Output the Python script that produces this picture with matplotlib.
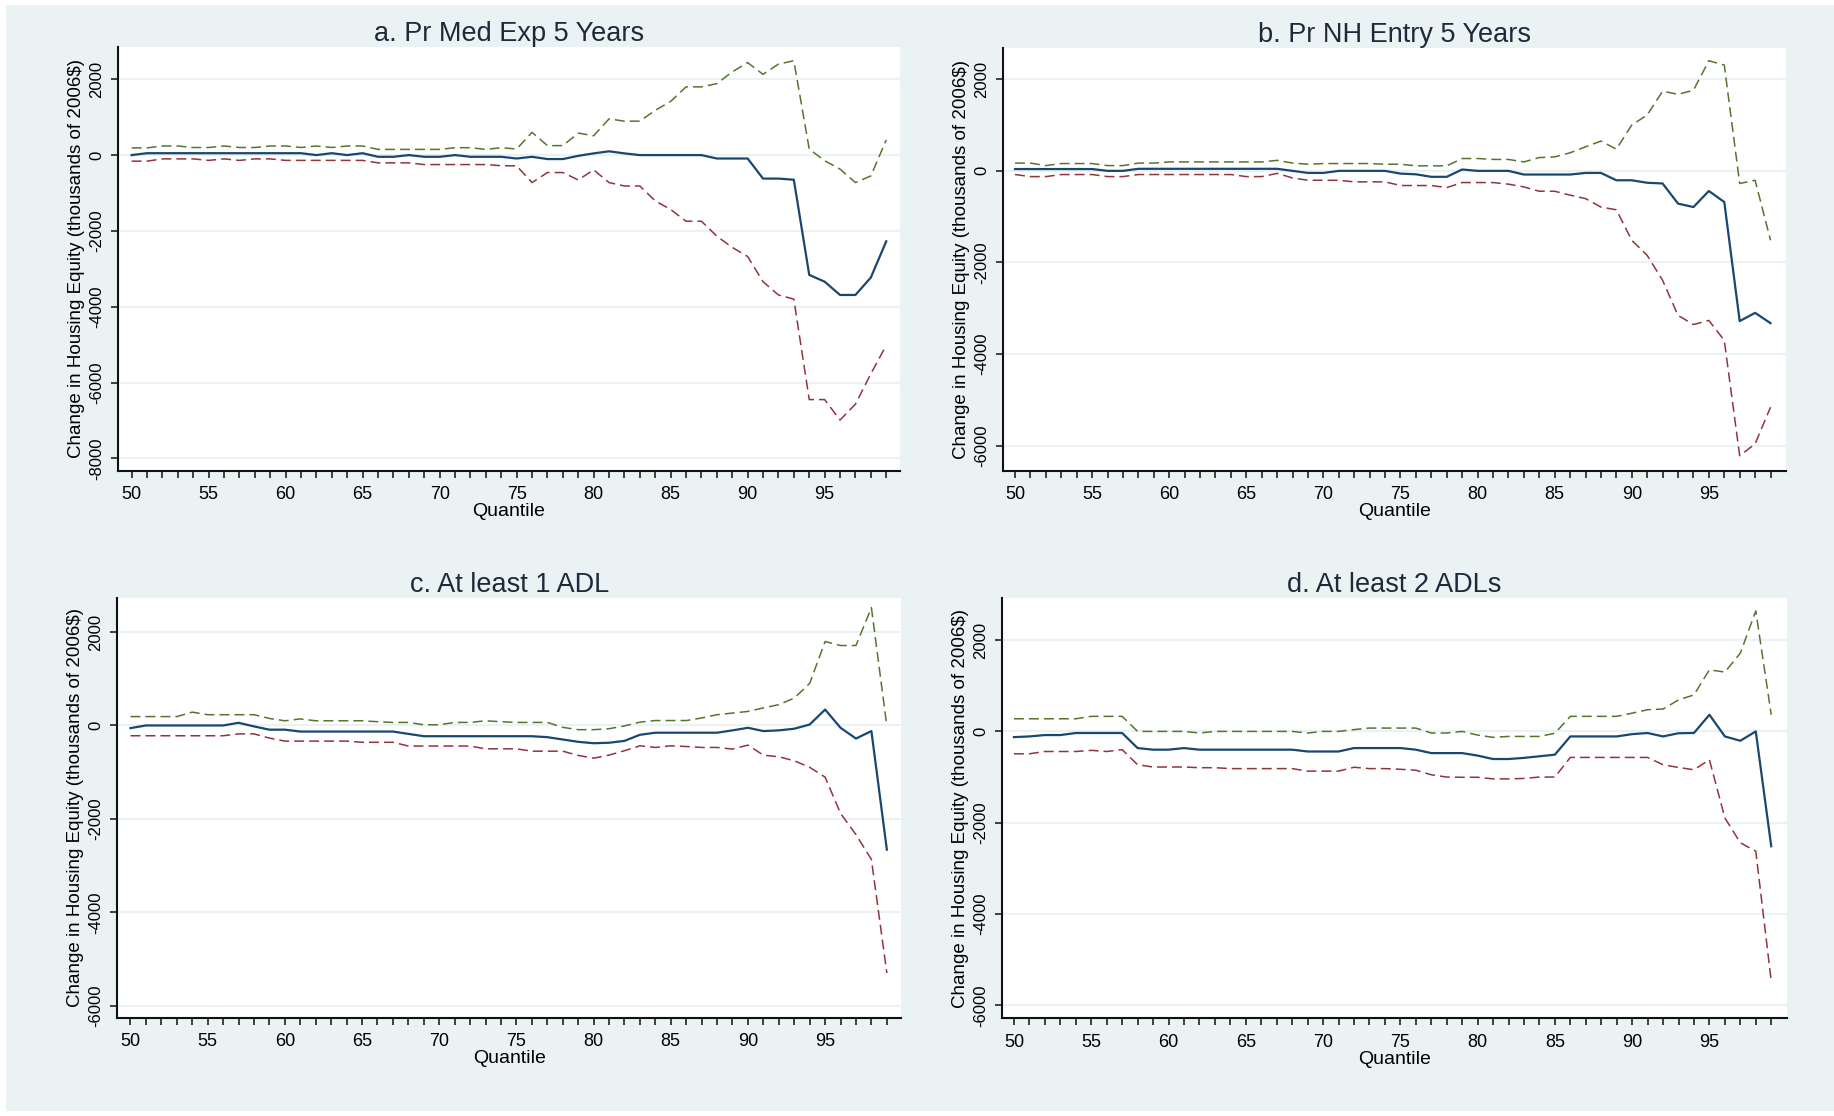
#!/usr/bin/env python3
"""
Quantile effects on change in housing equity, four health shocks (2x2 panels).
"""

import matplotlib
matplotlib.use("Agg")
import matplotlib.pyplot as plt
from matplotlib.patches import Rectangle

# quantiles on the x axis
quantiles = list(range(50, 100))

# a. Pr Med Exp 5 Years
coef_a = [0, 50, 50, 50, 50, 50, 50, 50, 50, 50,
          50, 50, 0, 50, 0, 50, -45, -45, 0, -45,
          -45, 0, -45, -45, -45, -90, -45, -105, -105, -20,
          45, 100, 45, 0, 0, 0, 0, 0, -90, -90,
          -90, -620, -620, -650, -3160, -3340, -3690, -3690, -3230, -2275]
upper_a = [190, 190, 240, 240, 200, 200, 240, 200, 200, 240,
           240, 200, 240, 200, 240, 240, 150, 150, 150, 150,
           150, 195, 195, 150, 195, 160, 600, 250, 250, 580,
           510, 955, 895, 895, 1180, 1415, 1800, 1800, 1885, 2195,
           2440, 2130, 2400, 2490, 160, -150, -370, -725, -550, 400]
lower_a = [-160, -160, -100, -100, -100, -140, -100, -140, -100, -100,
           -140, -140, -140, -140, -140, -140, -205, -205, -205, -250,
           -250, -250, -250, -250, -280, -285, -725, -460, -460, -655,
           -390, -725, -815, -815, -1210, -1435, -1745, -1745, -2140, -2435,
           -2675, -3340, -3690, -3800, -6450, -6450, -6990, -6570, -5770, -5020]

# b. Pr NH Entry 5 Years
coef_b = [40, 40, 40, 40, 40, 40, 0, 0, 45, 45,
          45, 45, 45, 45, 45, 45, 45, 45, 0, -45,
          -45, 0, 0, 0, 0, -60, -75, -130, -130, 30,
          0, 0, 0, -80, -80, -80, -80, -45, -45, -205,
          -205, -260, -275, -715, -790, -440, -680, -3280, -3100, -3325]
upper_b = [170, 170, 115, 160, 160, 160, 115, 115, 170, 170,
           195, 195, 195, 195, 195, 195, 195, 230, 170, 145,
           160, 160, 160, 160, 145, 145, 110, 110, 110, 270,
           270, 250, 250, 195, 290, 305, 395, 525, 650, 475,
           1000, 1220, 1740, 1670, 1760, 2405, 2310, -275, -205, -1515]
lower_b = [-80, -125, -125, -80, -80, -80, -125, -125, -80, -80,
           -80, -80, -80, -80, -80, -125, -125, -55, -155, -205,
           -205, -205, -240, -240, -240, -320, -320, -320, -365, -255,
           -255, -255, -290, -350, -445, -445, -530, -605, -790, -850,
           -1515, -1845, -2390, -3155, -3355, -3265, -3700, -6220, -5960, -5160]

# c. At least 1 ADL
coef_c = [-57, 0, 0, 0, 0, 0, 0, 57, -20, -90,
          -90, -130, -130, -130, -130, -130, -130, -130, -180, -230,
          -230, -230, -230, -230, -230, -230, -230, -250, -300, -350,
          -380, -370, -330, -200, -155, -155, -155, -155, -155, -105,
          -50, -120, -105, -70, 20, 340, -50, -280, -120, -2655]
upper_c = [190, 190, 190, 190, 285, 230, 230, 230, 230, 150,
           100, 140, 100, 100, 100, 100, 80, 65, 65, 15,
           15, 65, 65, 100, 80, 65, 65, 65, -40, -90,
           -90, -70, -10, 70, 105, 105, 105, 160, 230, 265,
           300, 375, 445, 585, 900, 1795, 1710, 1710, 2520, -15]
lower_c = [-220, -220, -220, -220, -220, -220, -220, -180, -180, -270,
           -335, -335, -335, -335, -335, -360, -360, -360, -440, -440,
           -440, -440, -440, -500, -500, -500, -550, -550, -550, -640,
           -700, -635, -540, -435, -470, -435, -450, -470, -470, -505,
           -420, -635, -670, -755, -895, -1105, -1880, -2335, -2865, -5295]

# d. At least 2 ADLs
coef_d = [-125, -110, -80, -80, -35, -35, -35, -35, -365, -400,
          -400, -365, -400, -400, -400, -400, -400, -400, -400, -440,
          -440, -440, -365, -365, -365, -365, -400, -475, -475, -475,
          -530, -605, -605, -580, -545, -510, -110, -110, -110, -110,
          -60, -35, -110, -40, -35, 365, -110, -205, 0, -2515]
upper_d = [277, 277, 277, 277, 277, 330, 330, 330, 0, 0,
           0, 0, -35, 0, 0, 0, 0, 0, 0, -35,
           0, 0, 40, 73, 73, 73, 73, -35, -35, 0,
           -80, -130, -110, -110, -110, -40, 330, 330, 330, 330,
           400, 475, 490, 690, 800, 1350, 1300, 1715, 2640, 365]
lower_d = [-490, -490, -440, -440, -440, -415, -440, -400, -730, -780,
           -780, -780, -795, -795, -815, -815, -815, -815, -815, -870,
           -870, -870, -785, -815, -815, -830, -850, -950, -1000, -1005,
           -1005, -1040, -1040, -1030, -1000, -1000, -570, -570, -570, -570,
           -570, -570, -730, -790, -840, -620, -1895, -2440, -2625, -5470]

titles = ['a. Pr Med Exp 5 Years', 'b. Pr NH Entry 5 Years',
          'c. At least 1 ADL', 'd. At least 2 ADLs']
yticks_a = [-8000, -6000, -4000, -2000, 0, 2000]
yticks_other = [-6000, -4000, -2000, 0, 2000]
y_label = 'Change in Housing Equity (thousands of 2006$)'
x_label = 'Quantile'

# Stata s2color look
BG = '#EAF2F3'
NAVY = '#1a476f'
MAROON = '#90353b'
GREEN = '#55752f'

plt.rcParams['font.family'] = ['Liberation Sans', 'DejaVu Sans']
plt.rcParams['axes.unicode_minus'] = False


def draw_panel(ax, title, coef, upper, lower, yticks, ylim, xlim):
    """One Stata-style panel: estimate plus dashed confidence bounds."""
    ax.set_facecolor('white')
    for t in yticks:
        ax.axhline(t, color=BG, linewidth=1.6, zorder=0)

    ax.plot(quantiles, coef, color=NAVY, linewidth=1.6, zorder=3)
    ax.plot(quantiles, lower, color=MAROON, linewidth=1.1,
            dashes=(6.5, 3.3), zorder=2)
    ax.plot(quantiles, upper, color=GREEN, linewidth=1.1,
            dashes=(6.5, 3.3), zorder=2)

    ax.set_xlim(*xlim)
    ax.set_ylim(*ylim)

    xlabels = [str(q) if q % 5 == 0 else '' for q in quantiles]
    ax.set_xticks(quantiles)
    ax.set_xticklabels(xlabels, fontsize=13)
    ax.set_yticks(yticks)
    ax.set_yticklabels([str(t) for t in yticks], rotation=90,
                       va='center', fontsize=12)
    ax.tick_params(axis='both', direction='out', length=5, width=1.2,
                   color='#222222', pad=5)
    ax.tick_params(axis='x', pad=6)

    for side in ('top', 'right'):
        ax.spines[side].set_visible(False)
    for side in ('left', 'bottom'):
        ax.spines[side].set_linewidth(1.5)
        ax.spines[side].set_color('#111111')

    ax.set_title(title, fontsize=19.5, color='#1c2a3a', pad=4)
    ax.set_xlabel(x_label, fontsize=14, labelpad=0)
    ax.set_ylabel(y_label, fontsize=13.5, labelpad=3)


fig = plt.figure(figsize=(18.34, 11.16), dpi=100)
fig.patch.set_facecolor('white')
fig.patches.append(Rectangle((6 / 1834, 5 / 1116), 1 - 6 / 1834, 1 - 10 / 1116,
                             transform=fig.transFigure, facecolor=BG,
                             edgecolor='none', zorder=-10))

ax_a = fig.add_axes([0.0643, 0.5782, 0.4264, 0.3797])
ax_b = fig.add_axes([0.5469, 0.5780, 0.4269, 0.3790])
ax_c = fig.add_axes([0.0640, 0.0880, 0.4273, 0.3762])
ax_d = fig.add_axes([0.5463, 0.0874, 0.4279, 0.3766])

draw_panel(ax_a, titles[0], coef_a, upper_a, lower_a, yticks_a,
           (-8327, 2852), (49.11, 99.89))
draw_panel(ax_b, titles[1], coef_b, upper_b, lower_b, yticks_other,
           (-6552, 2683), (49.22, 100.0))
draw_panel(ax_c, titles[2], coef_c, upper_c, lower_c, yticks_other,
           (-6252, 2727), (49.15, 99.92))
draw_panel(ax_d, titles[3], coef_d, upper_d, lower_d, yticks_other,
           (-6289, 2919), (49.22, 100.0))

fig.savefig('out.png', dpi=100)
